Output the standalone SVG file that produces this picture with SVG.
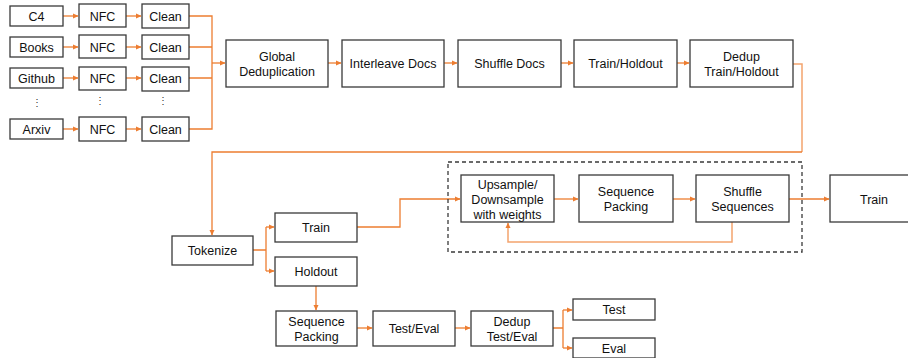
<svg xmlns="http://www.w3.org/2000/svg" width="908" height="358" viewBox="0 0 908 358">
<defs>
<marker id="ah" markerWidth="6" markerHeight="6" refX="5" refY="3" orient="auto" markerUnits="userSpaceOnUse">
<path d="M0,0.5 L5.5,3 L0,5.5 z" fill="#ED7D31"/>
</marker>
<style>
.b{fill:#fff;stroke:#3a3a3a;stroke-width:1.3}
.t{font-family:"Liberation Sans",Arial,sans-serif;font-size:12.5px;fill:#111;text-anchor:middle}
.c{fill:none;stroke:#ED7D31;stroke-width:1.3}
.cl{fill:none;stroke:#F4A46E;stroke-width:1.5}
.d{font-family:"Liberation Sans",Arial,sans-serif;font-size:10px;fill:#333;text-anchor:middle}
</style>
</defs>
<rect width="908" height="358" fill="#fff"/>
<g id="connectors">
<path class="c" d="M63,16 H78" marker-end="url(#ah)"/>
<path class="c" d="M63,47 H78" marker-end="url(#ah)"/>
<path class="c" d="M63,78 H78" marker-end="url(#ah)"/>
<path class="c" d="M63,129 H78" marker-end="url(#ah)"/>
<path class="c" d="M126,16 H141" marker-end="url(#ah)"/>
<path class="c" d="M126,47 H141" marker-end="url(#ah)"/>
<path class="c" d="M126,78 H141" marker-end="url(#ah)"/>
<path class="c" d="M126,129 H141" marker-end="url(#ah)"/>
<path class="c" d="M189,16 H212 V129 H189 M189,47 H212 M189,78 H212"/>
<path class="c" d="M212,63 H225" marker-end="url(#ah)"/>
<path class="c" d="M328,63 H341" marker-end="url(#ah)"/>
<path class="c" d="M444,63 H457" marker-end="url(#ah)"/>
<path class="c" d="M561,63 H573" marker-end="url(#ah)"/>
<path class="c" d="M677,63 H689" marker-end="url(#ah)"/>
<path class="cl" d="M793,64 H802 V152"/>
<path class="c" d="M802,152 H212 V235" marker-end="url(#ah)"/>
<path class="c" d="M253,250 H266 M266,227 V271"/>
<path class="c" d="M266,227 H274" marker-end="url(#ah)"/>
<path class="c" d="M266,271 H274" marker-end="url(#ah)"/>
<path class="c" d="M357,227 H400 V199 H460" marker-end="url(#ah)"/>
<path class="c" d="M554,199 H578" marker-end="url(#ah)"/>
<path class="c" d="M673,199 H695" marker-end="url(#ah)"/>
<path class="c" d="M789,199 H829" marker-end="url(#ah)"/>
<path class="cl" d="M732,222 V242 H508 V223" marker-end="url(#ah)"/>
<path class="c" d="M316,286 V310" marker-end="url(#ah)"/>
<path class="c" d="M357,328 H372" marker-end="url(#ah)"/>
<path class="c" d="M455,328 H470" marker-end="url(#ah)"/>
<path class="c" d="M553,328 H563 M563,310 V348"/>
<path class="c" d="M563,310 H572" marker-end="url(#ah)"/>
<path class="c" d="M563,348 H572" marker-end="url(#ah)"/>
</g>
<rect x="448" y="162" width="354" height="90" fill="none" stroke="#3a3a3a" stroke-width="1.3" stroke-dasharray="4,3"/>
<g id="c4"><rect class="b" x="10" y="6" width="53" height="20"/><text class="t" x="36.5" y="20.5">C4</text></g>
<g id="books"><rect class="b" x="10" y="37" width="53" height="20"/><text class="t" x="36.5" y="51.5">Books</text></g>
<g id="github"><rect class="b" x="10" y="68" width="53" height="20"/><text class="t" x="36.5" y="82.5">Github</text></g>
<g id="arxiv"><rect class="b" x="10" y="119" width="53" height="20"/><text class="t" x="36.5" y="133.5">Arxiv</text></g>
<g id="nfc1"><rect class="b" x="79" y="4" width="47" height="23"/><text class="t" x="102.5" y="20.5">NFC</text></g>
<g id="nfc2"><rect class="b" x="79" y="35" width="47" height="23"/><text class="t" x="102.5" y="51.5">NFC</text></g>
<g id="nfc3"><rect class="b" x="79" y="67" width="47" height="23"/><text class="t" x="102.5" y="83">NFC</text></g>
<g id="nfc4"><rect class="b" x="79" y="117" width="47" height="24"/><text class="t" x="102.5" y="133.5">NFC</text></g>
<g id="clean1"><rect class="b" x="142" y="4" width="47" height="24"/><text class="t" x="165.5" y="20.5">Clean</text></g>
<g id="clean2"><rect class="b" x="142" y="35" width="47" height="24"/><text class="t" x="165.5" y="51.5">Clean</text></g>
<g id="clean3"><rect class="b" x="142" y="67" width="47" height="24"/><text class="t" x="165.5" y="83">Clean</text></g>
<g id="clean4"><rect class="b" x="142" y="117" width="47" height="24"/><text class="t" x="165.5" y="133.5">Clean</text></g>
<g id="dots"><text class="d" x="36.5" y="106">⋮</text><text class="d" x="99.5" y="104">⋮</text><text class="d" x="162.5" y="104">⋮</text></g>
<g id="global"><rect class="b" x="226" y="40" width="102" height="47"/><text class="t" x="277" y="61">Global</text><text class="t" x="277" y="76">Deduplication</text></g>
<g id="interleave"><rect class="b" x="342" y="40" width="102" height="47"/><text class="t" x="393" y="68">Interleave Docs</text></g>
<g id="shuffle"><rect class="b" x="458" y="40" width="103" height="47"/><text class="t" x="509.5" y="68">Shuffle Docs</text></g>
<g id="trainholdout"><rect class="b" x="574" y="40" width="103" height="47"/><text class="t" x="625.5" y="68">Train/Holdout</text></g>
<g id="deduptrain"><rect class="b" x="690" y="40" width="103" height="47"/><text class="t" x="741.5" y="61">Dedup</text><text class="t" x="741.5" y="76">Train/Holdout</text></g>
<g id="tokenize"><rect class="b" x="172" y="236" width="81" height="29"/><text class="t" x="212.5" y="255">Tokenize</text></g>
<g id="train1"><rect class="b" x="275" y="213" width="82" height="29"/><text class="t" x="316" y="232">Train</text></g>
<g id="holdout"><rect class="b" x="275" y="257" width="82" height="29"/><text class="t" x="316" y="276">Holdout</text></g>
<g id="upsample"><rect class="b" x="461" y="175" width="93" height="47"/><text class="t" x="507.5" y="188.5">Upsample/</text><text class="t" x="507.5" y="203.5">Downsample</text><text class="t" x="507.5" y="218.5">with weights</text></g>
<g id="seqpack"><rect class="b" x="579" y="175" width="94" height="47"/><text class="t" x="626" y="196">Sequence</text><text class="t" x="626" y="211">Packing</text></g>
<g id="shuffleseq"><rect class="b" x="696" y="175" width="93" height="47"/><text class="t" x="742.5" y="196">Shuffle</text><text class="t" x="742.5" y="211">Sequences</text></g>
<g id="train2"><rect class="b" x="830" y="175" width="92" height="47"/><text class="t" x="874" y="204">Train</text></g>
<g id="seqpack2"><rect class="b" x="276" y="311" width="81" height="35"/><text class="t" x="316.5" y="326">Sequence</text><text class="t" x="316.5" y="341">Packing</text></g>
<g id="testeval"><rect class="b" x="373" y="311" width="82" height="35"/><text class="t" x="414" y="333">Test/Eval</text></g>
<g id="deduptest"><rect class="b" x="471" y="311" width="82" height="35"/><text class="t" x="512" y="326">Dedup</text><text class="t" x="512" y="341">Test/Eval</text></g>
<g id="test"><rect class="b" x="573" y="299" width="82" height="21"/><text class="t" x="614" y="314">Test</text></g>
<g id="eval"><rect class="b" x="573" y="338" width="82" height="20"/><text class="t" x="614" y="353">Eval</text></g>
</svg>
